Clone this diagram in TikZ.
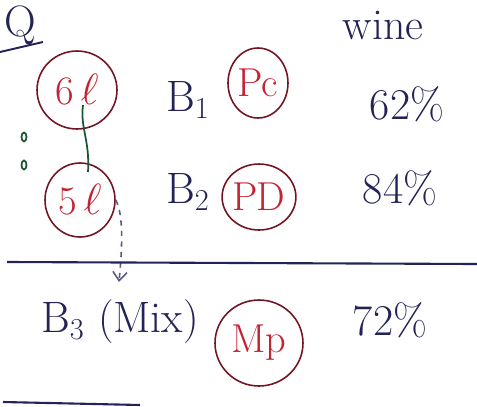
\documentclass[tikz,border=0pt]{standalone}
\usetikzlibrary{arrows.meta,shapes.geometric}
\definecolor{ink}{RGB}{35,35,85}
\definecolor{redink}{RGB}{195,35,50}
\definecolor{ringink}{RGB}{115,20,35}
\definecolor{greenink}{RGB}{30,85,55}
\begin{document}
\begin{tikzpicture}[x=0.02cm,y=-0.02cm,every node/.style={font=\fontsize{25}{30}\selectfont,text=ink},
  ring/.style={draw=ringink,line width=0.9pt,ellipse,inner sep=0pt,text=redink,font=\fontsize{23}{28}\selectfont}]
\useasboundingbox (0,0) rectangle (477,406);
\node (q) at (20,25) {Q};
\draw[ink,line width=1.1pt] (0,52) -- (43,42);
\node (wine) at (383,26) {wine};
% bottles with their circled labels
\node[ring,minimum width=1.6cm,minimum height=1.56cm] (six) at (77,90) {6\,$\ell$};
\node[ring,minimum width=1.4cm,minimum height=1.48cm] (five) at (80,200) {5\,$\ell$};
\node (b1) at (188,100) {B$_1$};
\node (b2) at (188,192) {B$_2$};
\node[ring,minimum width=1.2cm,minimum height=1.4cm] (pc) at (258,83) {P\kern-1pt c};
\node[ring,minimum width=1.24cm,minimum height=1.32cm] (pd) at (259,197) {P\kern-1pt D};
\node (p62) at (407,104) {62\%};
\node (p84) at (400,188) {84\%};
\foreach \y in {137,165} \draw[greenink,line width=1pt] (24,\y) ellipse (2.5 and 4.5);
\coordinate (sixtail) at (83,105);
\coordinate (fivehead) at (88,172);
\draw[greenink,line width=1pt] (sixtail) .. controls (80,128) and (90,140) .. (fivehead);
\coordinate (drop) at (119,282);
\draw[ink!75,line width=0.9pt,dashed,-{Straight Barb[length=5pt,width=8pt]}] (five.east) .. controls (124,215) and (122,250) .. (drop);
\draw[ink,line width=1.2pt] (7,262) -- (477,264);
% mix row
\node (b3) at (120,322) {B$_3$ (Mix)};
\node[ring,minimum width=1.76cm,minimum height=1.72cm] (mp) at (259,343) {Mp};
\node (p72) at (390,320) {72\%};
\draw[ink,line width=1.2pt] (3,402) -- (140,405);
\end{tikzpicture}
\end{document}
